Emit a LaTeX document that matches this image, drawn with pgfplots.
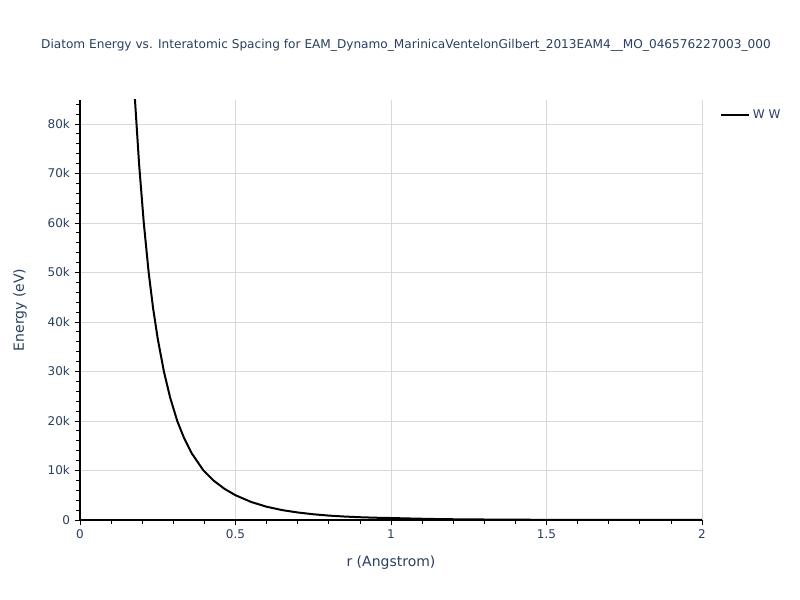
\documentclass[border=0pt]{standalone}
\usepackage{pgfplots}
\pgfplotsset{compat=1.18}
\usepackage{fontspec}
\setmainfont{DejaVu Sans}
\setsansfont{DejaVu Sans}
\definecolor{plotlyfont}{HTML}{2A3F5F}
\definecolor{gridc}{HTML}{D9D9D9}
\begin{document}
\begin{tikzpicture}
\path[use as bounding box] (0pt,0pt) rectangle (600pt,450pt);
\node[font=\fontsize{9.1}{11}\selectfont, text=plotlyfont, anchor=center] at (304.5pt,416.25pt)
  {Diatom Energy vs. Interatomic Spacing for EAM\_Dynamo\_MarinicaVentelonGilbert\_2013EAM4\_\_MO\_046576227003\_000};
\begin{axis}[
  at={(60pt,60pt)}, anchor=south west,
  scale only axis, width=466.5pt, height=315pt,
  xmin=0, xmax=2, ymin=0, ymax=84850,
  axis x line*=bottom, axis y line*=left,
  axis line style={-, black, line width=0.8pt},
  xtick={0,0.5,1,1.5,2},
  xticklabels={0,0.5,1,1.5,2},
  minor xtick={0.1,0.2,0.3,0.4,0.6,0.7,0.8,0.9,1.1,1.2,1.3,1.4,1.6,1.7,1.8,1.9},
  ytick={0,10000,20000,30000,40000,50000,60000,70000,80000},
  yticklabels={0,10k,20k,30k,40k,50k,60k,70k,80k},
  minor ytick={2000,4000,...,84000},
  scaled y ticks=false,
  tick align=outside,
  major tick length=4pt, minor tick length=3pt,
  tick style={black, line width=0.6pt},
  xmajorgrids, ymajorgrids,
  major grid style={gridc, line width=0.6pt},
  ticklabel style={font=\fontsize{9}{10}\selectfont, text=plotlyfont},
  /pgf/number format/assume math mode=true,
  xlabel={r (Angstrom)}, ylabel={Energy (eV)},
  label style={font=\fontsize{10.5}{12}\selectfont, text=plotlyfont},
  xlabel style={at={(axis description cs:0.5,-0.1024)}, anchor=center},
  ylabel style={at={(axis description cs:-0.0965,0.5)}, anchor=center},
  legend style={at={(axis description cs:1.029,0.965)}, anchor=west, draw=none, fill=none,
    font=\fontsize{9}{10}\selectfont, text=plotlyfont, inner sep=0pt},
  legend cell align=left,
  legend image code/.code={\draw[#1] (0pt,0pt) -- (21pt,0pt);},
  clip=true,
]
\addplot[black, line width=1.5pt] table {
x y
0.165 98700
0.1768 84850
0.19 71900
0.205 60100
0.2208 50000
0.235 42800
0.25 36600
0.2701 29900
0.29 24700
0.313 19950
0.335 16500
0.36 13400
0.397 10000
0.43 7940
0.465 6280
0.5 5000
0.55 3650
0.6 2680
0.65 2000
0.7 1520
0.75 1160
0.8 890
0.85 700
0.9 560
0.95 460
1.0 400
1.05 320
1.1 250
1.15 190
1.2 150
1.3 100
1.4 60
1.5 40
1.6 30
1.7 20
1.8 15
1.9 10
2.0 5
};
\addlegendentry{W W}
\end{axis}
\end{tikzpicture}
\end{document}
